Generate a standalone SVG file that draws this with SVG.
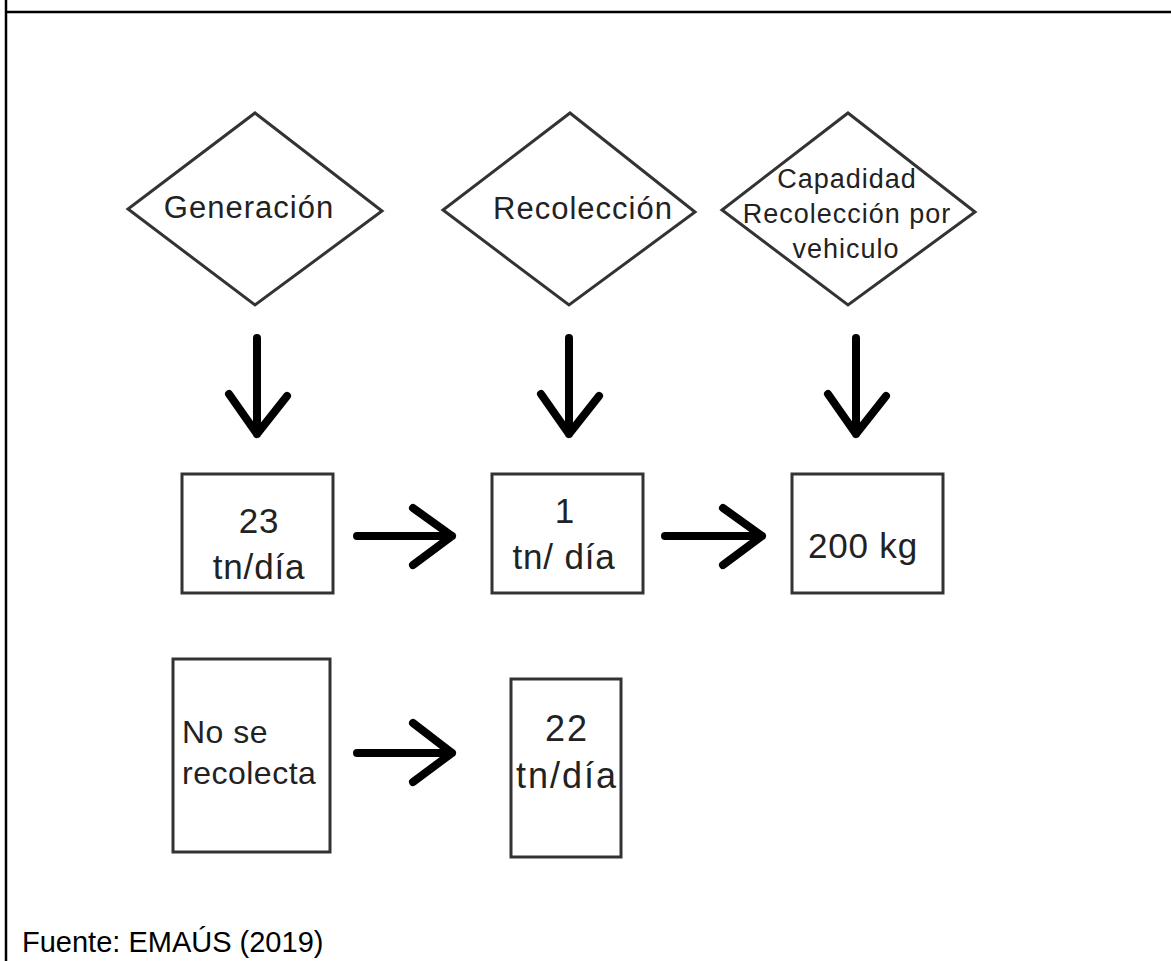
<svg xmlns="http://www.w3.org/2000/svg" width="1171" height="961" viewBox="0 0 1171 961">
<style>
.frame{stroke:#000;stroke-width:2.5;fill:none}
.shape{fill:#fff;stroke:#333;stroke-width:3}
.t{font-family:"Liberation Sans",Arial,sans-serif;fill:#222;text-anchor:middle}
.dt{font-size:31px;letter-spacing:1px}
.ct{font-size:27px;letter-spacing:1px}
.bt{font-size:35px;letter-spacing:0.8px}
.lt{font-size:32px;letter-spacing:0.5px;text-anchor:start}
.b5{font-size:36px;letter-spacing:2px}
.arr{stroke:#000;stroke-width:8;fill:none;stroke-linecap:round;stroke-linejoin:round}
.foot{font-family:"Liberation Sans",Arial,sans-serif;font-size:29px;fill:#000}
</style>
<rect width="1171" height="961" fill="#fff"/>
<g id="frame">
<line class="frame" x1="6" y1="12" x2="1171" y2="12"/>
<line class="frame" x1="6" y1="0" x2="6" y2="961"/>
</g>
<g id="n-generacion">
<polygon class="shape" points="255,113 382,211 255,305 128,209"/>
<text class="t dt" x="249" y="218">Generación</text>
</g>
<g id="n-recoleccion">
<polygon class="shape" points="570,113 695,212 569,305 443,210"/>
<text class="t dt" x="583" y="219">Recolección</text>
</g>
<g id="n-capacidad">
<polygon class="shape" points="848,113 975,212 848,305 722,210"/>
<text class="t ct" x="847" y="188">Capadidad</text>
<text class="t ct" x="847" y="223">Recolección por</text>
<text class="t ct" x="846" y="258">vehiculo</text>
</g>
<g id="n-23">
<rect class="shape" x="182" y="474" width="151" height="119"/>
<text class="t bt" x="259" y="533">23</text>
<text class="t bt" x="259" y="579">tn/día</text>
</g>
<g id="n-1">
<rect class="shape" x="492" y="474" width="151" height="119"/>
<text class="t bt" x="565" y="523">1</text>
<text class="t bt" x="564" y="569">tn/ día</text>
</g>
<g id="n-200">
<rect class="shape" x="792" y="474" width="151" height="119"/>
<text class="t bt" x="863" y="558">200 kg</text>
</g>
<g id="n-nose">
<rect class="shape" x="173" y="659" width="157" height="193"/>
<text class="t lt" x="182" y="743">No se</text>
<text class="t lt" x="182" y="784">recolecta</text>
</g>
<g id="n-22">
<rect class="shape" x="511" y="679" width="110" height="178"/>
<text class="t b5" x="567" y="741">22</text>
<text class="t b5" x="567" y="788">tn/día</text>
</g>
<g id="connectors">
<path class="arr" d="M257,338 V434 M229,394 L257,434 L287,396"/>
<path class="arr" d="M569,338 V434 M541,394 L569,434 L599,396"/>
<path class="arr" d="M856,338 V434 M828,394 L856,434 L886,396"/>
<path class="arr" d="M357,536 H452 M413,508 L452,536 L413,565"/>
<path class="arr" d="M665,536 H762 M723,508 L762,536 L723,565"/>
<path class="arr" d="M357,753 H452 M413,723 L452,753 L413,782"/>
</g>
<text class="foot" x="22" y="952">Fuente: EMAÚS (2019)</text>
</svg>
